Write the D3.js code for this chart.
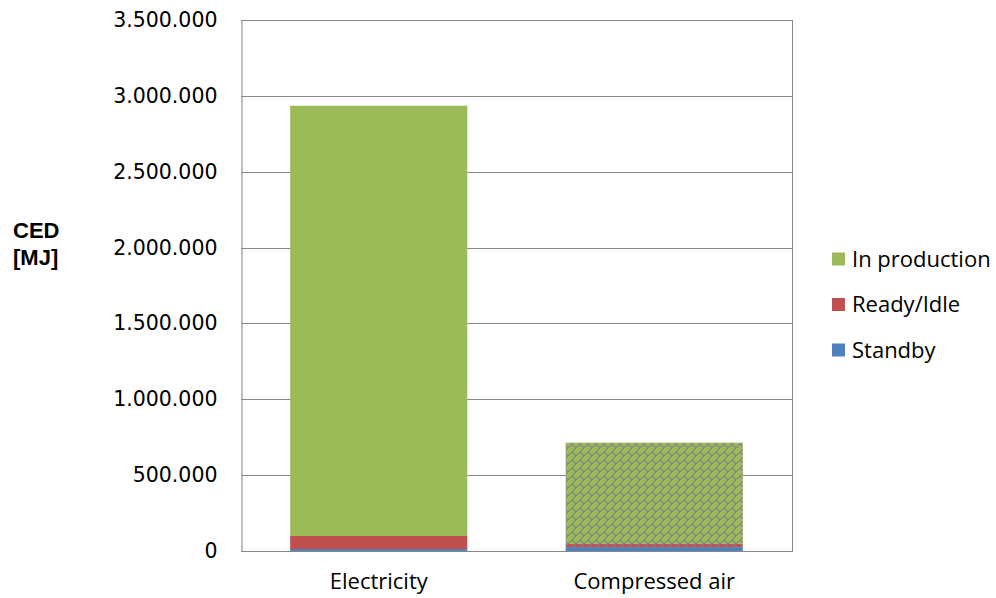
<!DOCTYPE html>
<html>
<head>
<meta charset="utf-8">
<script src="https://cdn.jsdelivr.net/npm/d3@7"></script>
<style>
  html, body { margin: 0; padding: 0; background: #fff; }
  svg { display: block; }
</style>
</head>
<body>
<svg id="chart" width="996" height="598"></svg>
<script>
// Cumulative energy demand per energy carrier, split by machine state
const categories = ["Electricity", "Compressed air"];
const seriesNames = ["Standby", "Ready/Idle", "In production"];
const standby = [13000, 26000];
const readyIdle = [86000, 20000];
const inProduction = [2836000, 668000];
const yTicks = [0, 500000, 1000000, 1500000, 2000000, 2500000, 3000000, 3500000];
const yTickLabels = ["0", "500.000", "1.000.000", "1.500.000", "2.000.000", "2.500.000", "3.000.000", "3.500.000"];
const hatched = [false, true];   // compressed air drawn with a diagonal brick fill

const colors = { "Standby": "#4F81BD", "Ready/Idle": "#C0504D", "In production": "#9BBB59" };

const rows = categories.map((c, i) => ({
  category: c,
  "Standby": standby[i],
  "Ready/Idle": readyIdle[i],
  "In production": inProduction[i],
  hatched: hatched[i]
}));

const svg = d3.select("#chart");
const plot = { left: 241, right: 792, top: 20, bottom: 551 };

const x = d3.scaleBand()
  .domain(categories)
  .range([plot.left, plot.right])
  .paddingInner(0.357)
  .paddingOuter(0.1785);

const y = d3.scaleLinear()
  .domain([0, 3500000])
  .range([plot.bottom, plot.top]);

// Brick patterns, one per fill colour
const defs = svg.append("defs");
seriesNames.forEach(name => {
  const p = defs.append("pattern")
    .attr("id", "brick-" + name.replace(/[^a-z]/gi, ""))
    .attr("patternUnits", "userSpaceOnUse")
    .attr("width", 8).attr("height", 8);
  p.append("rect").attr("width", 8).attr("height", 8).attr("fill", colors[name]);
  const g = p.append("g").attr("stroke", "#858585").attr("stroke-width", 1.2).attr("fill", "none");
  g.append("line").attr("x1", -1).attr("y1", 9).attr("x2", 9).attr("y2", -1);
  g.append("line").attr("x1", 4).attr("y1", 4).attr("x2", 8.5).attr("y2", 8.5);
  g.append("line").attr("x1", 7).attr("y1", 9).attr("x2", 9).attr("y2", 7);
});

// Gridlines
svg.append("g")
  .selectAll("line")
  .data(yTicks.filter(v => v > 0))
  .join("line")
  .attr("x1", plot.left).attr("x2", plot.right)
  .attr("y1", d => Math.round(y(d)) + 0.5).attr("y2", d => Math.round(y(d)) + 0.5)
  .attr("stroke", "#868686").attr("stroke-width", 1);

// Right border
svg.append("line")
  .attr("x1", plot.right + 0.5).attr("x2", plot.right + 0.5)
  .attr("y1", plot.top).attr("y2", plot.bottom)
  .attr("stroke", "#868686");

// Stacked bars
const stack = d3.stack().keys(seriesNames);
const layers = stack(rows);

svg.append("g")
  .selectAll("g")
  .data(layers)
  .join("g")
  .each(function(layer) {
    const key = layer.key;
    d3.select(this).selectAll("rect")
      .data(layer)
      .join("rect")
      .attr("x", d => x(d.data.category))
      .attr("width", x.bandwidth())
      .attr("y", d => y(d[1]))
      .attr("height", d => y(d[0]) - y(d[1]))
      .attr("fill", d => (d.data.hatched && key !== "Standby")
        ? "url(#brick-" + key.replace(/[^a-z]/gi, "") + ")"
        : colors[key]);
  });

// Y axis
const yAxis = d3.axisLeft(y)
  .tickValues(yTicks)
  .tickFormat((d, i) => yTickLabels[i])
  .tickSize(0)
  .tickPadding(24);

const yg = svg.append("g")
  .attr("transform", `translate(${plot.left + 0.5},0)`)
  .call(yAxis);
yg.select(".domain").attr("stroke", "#868686");
yg.selectAll("text")
  .attr("font-family", "'DejaVu Sans', Verdana, sans-serif")
  .attr("font-size", 20.5)
  .attr("fill", "#000");

// X axis
const xAxis = d3.axisBottom(x).tickSize(0).tickPadding(22);
const xg = svg.append("g")
  .attr("transform", `translate(0,${plot.bottom + 0.5})`)
  .call(xAxis);
xg.select(".domain").attr("stroke", "#868686").attr("d", `M${plot.left},0H${plot.right + 1}`);
xg.selectAll("text")
  .attr("font-family", "'Open Sans', sans-serif")
  .attr("font-size", 22)
  .attr("fill", "#000");

// Axis title
const title = svg.append("text")
  .attr("font-family", "'Liberation Sans', Arial, sans-serif")
  .attr("font-weight", "bold")
  .attr("font-size", 22)
  .attr("fill", "#000");
title.append("tspan").attr("x", 13).attr("y", 238).text("CED");
title.append("tspan").attr("x", 13).attr("y", 265).text("[MJ]");

// Legend
const legendItems = ["In production", "Ready/Idle", "Standby"];
const legend = svg.append("g").attr("transform", "translate(832,259)");
const li = legend.selectAll("g")
  .data(legendItems)
  .join("g")
  .attr("transform", (d, i) => `translate(0,${i * 45.5})`);
li.append("rect")
  .attr("x", 0).attr("y", -6.5).attr("width", 13).attr("height", 13)
  .attr("fill", d => colors[d]);
li.append("text")
  .attr("x", 20).attr("y", 0)
  .attr("dy", "0.36em")
  .attr("font-family", "'Open Sans', sans-serif")
  .attr("font-size", 22)
  .attr("fill", "#000")
  .text(d => d);
</script>
</body>
</html>
